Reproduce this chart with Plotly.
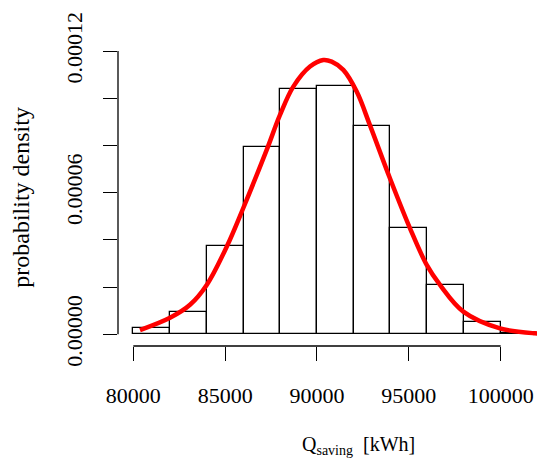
import plotly.graph_objects as go

# Histogram bins (kWh) and densities
bin_edges = [80000, 82000, 84000, 86000, 88000, 90000, 92000, 94000, 96000, 98000, 100000, 102000]
bin_density = [2.8e-6, 9.6e-6, 3.75e-5, 7.92e-5, 1.038e-4, 1.052e-4, 8.81e-5, 4.50e-5, 2.09e-5, 5.2e-6, 5e-7]

# Fitted density curve
curve_x = [80365, 81998, 83087, 83996, 85085, 85988, 87262, 87986, 88710, 89619, 90343,
           90800, 91432, 92161, 92886, 93975, 95064, 95973, 96697, 97966, 99963, 101869, 102000]
curve_y = [1.8e-6, 7.0e-6, 1.25e-5, 2.09e-5, 3.71e-5, 5.35e-5, 7.81e-5, 9.29e-5, 1.049e-4, 1.134e-4, 1.162e-4,
           1.155e-4, 1.120e-4, 1.028e-4, 8.85e-5, 6.6e-5, 4.49e-5, 2.94e-5, 2.09e-5, 9.6e-6, 2.5e-6, 4e-7, 3.5e-7]

x_ticks = [80000, 85000, 90000, 95000, 100000]
y_ticks = [0, 0.00002, 0.00004, 0.00006, 0.00008, 0.00010, 0.00012]
y_labeled_ticks = [0, 0.00006, 0.00012]
y_tick_labels = ["0.00000", "0.00006", "0.00012"]

centers = [(a + b) / 2 for a, b in zip(bin_edges[:-1], bin_edges[1:])]
widths = [b - a for a, b in zip(bin_edges[:-1], bin_edges[1:])]

FONT = "Liberation Serif"

fig = go.Figure()
fig.add_trace(go.Bar(x=centers, y=bin_density, width=widths,
                     marker=dict(color="white", line=dict(color="black", width=1.3)),
                     hoverinfo="skip", showlegend=False))
fig.add_trace(go.Scatter(x=curve_x, y=curve_y, mode="lines",
                         line=dict(color="#ff0000", width=4.5, shape="spline", smoothing=1.0),
                         hoverinfo="skip", showlegend=False))

fig.update_layout(
    width=537, height=458,
    margin=dict(l=118, r=0, t=49, b=112),
    paper_bgcolor="white", plot_bgcolor="white",
    bargap=0,
    font=dict(family=FONT, color="black"),
    xaxis=dict(range=[79167, 101977], tickvals=x_ticks, ticktext=[str(v) for v in x_ticks],
               ticks="outside", ticklen=14, tickwidth=1.3, tickcolor="black",
               showgrid=False, zeroline=False, showline=False,
               tickfont=dict(family=FONT, size=22, color="black"), ticklabelstandoff=16),
    yaxis=dict(range=[-4.96e-6, 1.2085e-4], tickvals=y_labeled_ticks, ticktext=y_tick_labels,
               ticks="outside", ticklen=14, tickwidth=1.3, tickcolor="black",
               minor=dict(tickvals=y_ticks, ticks="outside", ticklen=14, tickwidth=1.3,
                          tickcolor="black", showgrid=False),
               showgrid=False, zeroline=False, showline=False, tickangle=-90,
               tickfont=dict(family=FONT, size=22, color="black"), ticklabelstandoff=12),
    shapes=[
        dict(type="line", xref="x", yref="paper", x0=x_ticks[0], x1=x_ticks[-1], y0=0, y1=0,
             line=dict(color="black", width=1.3)),
        dict(type="line", xref="paper", yref="y", x0=0, x1=0, y0=y_ticks[0], y1=y_ticks[-1],
             line=dict(color="black", width=1.3)),
    ],
    annotations=[
        dict(text="Q<sub>saving</sub>  [kWh]", xref="paper", yref="paper", x=0.575, y=-0.335,
             xanchor="center", yanchor="middle", showarrow=False,
             font=dict(family=FONT, size=20, color="black")),
        dict(text="probability density", xref="paper", yref="paper", x=-0.232, y=0.502,
             xanchor="center", yanchor="middle", textangle=-90, showarrow=False,
             font=dict(family=FONT, size=24, color="black")),
    ],
)

fig.write_html("out.html", config={"displayModeBar": False},
               post_script="document.body.style.margin='0';document.body.style.overflow='hidden';")
